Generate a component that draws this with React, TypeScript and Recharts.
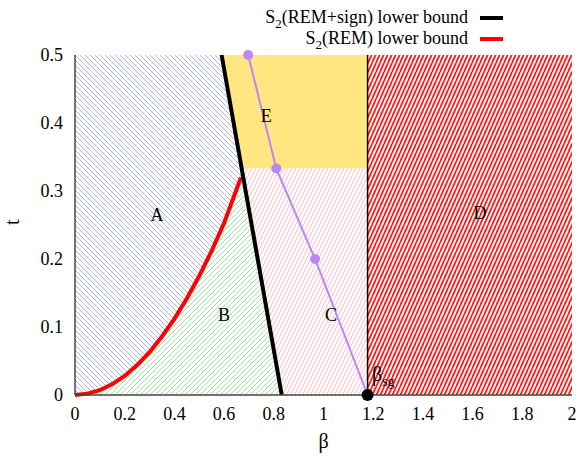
import React from "react"
import {
  ComposedChart,
  Area,
  Line,
  Scatter,
  XAxis,
  YAxis,
  ReferenceLine,
} from "recharts"

// axis ticks
const xTicks = [0, 0.2, 0.4, 0.6, 0.8, 1, 1.2, 1.4, 1.6, 1.8, 2]
const yTicks = [0, 0.1, 0.2, 0.3, 0.4, 0.5]

// critical beta (sqrt(2 ln 2))
const betaSg = 1.1774
const tSplit = 0.333

// S2(REM+sign) lower bound (black)
const signBeta = [0.59, 0.832]
const signT = [0.5, 0]

// S2(REM) lower bound (red)
const remBeta = [0, 0.05, 0.1, 0.15, 0.2, 0.25, 0.3, 0.35, 0.4, 0.45, 0.5, 0.55, 0.6, 0.668]
const remT = [0, 0.002, 0.007, 0.016, 0.028, 0.044, 0.063, 0.086, 0.112, 0.142, 0.175, 0.212, 0.253, 0.32]

// purple line + markers
const purpleBeta = [0.697, 0.81, 0.966, betaSg]
const purpleT = [0.5, 0.333, 0.2, 0]
const purpleDots = 3

// region labels
const labelText = ["A", "B", "C", "D", "E"]
const labelBeta = [0.33, 0.6, 1.03, 1.63, 0.77]
const labelT = [0.265, 0.118, 0.118, 0.267, 0.41]

const signData = signBeta.map((b, i) => ({ b, t: signT[i] }))
const remData = remBeta.map((b, i) => ({ b, t: remT[i] }))
const abData = [{ b: 0, t: 0.5 }, ...signData]
const signAt = (t: number) =>
  signBeta[0] + ((signT[0] - t) / (signT[0] - signT[1])) * (signBeta[1] - signBeta[0])
const bData = [
  ...remData,
  { b: signAt(remT[remT.length - 1]), t: remT[remT.length - 1] },
  { b: signBeta[1], t: signT[1] },
]
const cData = [
  { b: signBeta[0], t: [0, tSplit] },
  { b: betaSg, t: [0, tSplit] },
]
const eData = [
  { b: signBeta[0], t: [tSplit, 0.5] },
  { b: betaSg, t: [tSplit, 0.5] },
]
const dData = [
  { b: betaSg, t: [0, 0.5] },
  { b: 2, t: [0, 0.5] },
]
const purpleData = purpleBeta.map((b, i) => ({ b, t: purpleT[i] }))
const purpleDotData = purpleData.slice(0, purpleDots)
const labelData = labelText.map((text, i) => ({ b: labelBeta[i], t: labelT[i], text }))

const font = "'Liberation Serif', 'Times New Roman', serif"
const purple = "#bb88f0"

const XTick = (p: any) => (
  <text x={p.x} y={p.y} dy={13} textAnchor="middle" fontSize={18} style={{ fontFamily: font }} fill="#000">
    {`${p.payload.value}`}
  </text>
)
const YTick = (p: any) => (
  <text x={p.x} y={p.y} dy={6} textAnchor="end" fontSize={18} style={{ fontFamily: font }} fill="#000">
    {`${p.payload.value}`}
  </text>
)

const subStyle: React.CSSProperties = { fontSize: 13, position: "relative", top: 5 }

export default function App() {
  return (
    <div style={{ position: "absolute", left: 0, top: 0, width: 582, height: 457, background: "#fff", fontFamily: font }}>
      <div style={{ position: "absolute", top: 7, right: 79, fontSize: 18, color: "#000", fontFamily: font }}>
        <div style={{ display: "flex", alignItems: "center", justifyContent: "flex-end", height: 21 }}>
          <span>S<span style={subStyle}>2</span>(REM+sign) lower bound</span>
          <span style={{ display: "inline-block", width: 23, height: 4, background: "#000", marginLeft: 12 }} />
        </div>
        <div style={{ display: "flex", alignItems: "center", justifyContent: "flex-end", height: 21 }}>
          <span>S<span style={subStyle}>2</span>(REM) lower bound</span>
          <span style={{ display: "inline-block", width: 23, height: 4, background: "#ff0000", marginLeft: 12 }} />
        </div>
      </div>
      <ComposedChart width={582} height={457} margin={{ top: 55, right: 10, left: 0, bottom: 0 }} style={{ fontFamily: font }}>
        <defs>
          <pattern id="hatchBlue" patternUnits="userSpaceOnUse" width="5" height="5">
            <rect width="5" height="5" fill="#fff" />
            <path d="M0,0 L5,5 M-1,4 L1,6 M4,-1 L6,1" stroke="#a9b6e6" strokeWidth="1" />
          </pattern>
          <pattern id="hatchGreen" patternUnits="userSpaceOnUse" width="5" height="5">
            <rect width="5" height="5" fill="#fff" />
            <path d="M0,5 L5,0 M-1,1 L1,-1 M4,6 L6,4" stroke="#9de69d" strokeWidth="1" />
          </pattern>
          <pattern id="hatchPink" patternUnits="userSpaceOnUse" width="4" height="8">
            <rect width="4" height="8" fill="#fff" />
            <path d="M0,8 L4,0 M-2,4 L0,0 M4,8 L6,4" stroke="#ffbac6" strokeWidth="1" />
          </pattern>
          <pattern id="hatchRed" patternUnits="userSpaceOnUse" width="4" height="9">
            <rect width="4" height="9" fill="#fff" />
            <path d="M0,9 L4,0 M-2,4.5 L0,0 M4,9 L6,4.5" stroke="#ff1a1a" strokeWidth="1.8" />
          </pattern>
        </defs>
        <XAxis
          dataKey="b"
          type="number"
          domain={[0, 2]}
          ticks={xTicks}
          height={62}
          tickLine={false}
          tickSize={8}
          tickMargin={4}
          axisLine={{ stroke: "#444", strokeWidth: 1.5 }}
          tick={<XTick />}
          label={{ value: "β", position: "insideBottom", offset: 9, fill: "#000", fontSize: 20, style: { fontFamily: font } }}
        />
        <XAxis xAxisId="top" orientation="top" type="number" domain={[0, 2]} height={0} tick={false} tickLine={false} axisLine={{ stroke: "#555", strokeWidth: 1.5 }} />
        <YAxis
          dataKey="t"
          type="number"
          domain={[0, 0.5]}
          ticks={yTicks}
          width={75}
          tickLine={false}
          tickSize={8}
          tickMargin={4}
          axisLine={{ stroke: "#444", strokeWidth: 1.5 }}
          tick={<YTick />}
          label={{ value: "t", angle: -90, position: "insideLeft", offset: 12, fill: "#000", fontSize: 20, style: { fontFamily: font } }}
        />
        <YAxis yAxisId="right" orientation="right" type="number" domain={[0, 0.5]} width={0} tick={false} tickLine={false} axisLine={{ stroke: "#555", strokeWidth: 1.5 }} />

        <Area data={cData} dataKey="t" type="linear" fill="url(#hatchPink)" fillOpacity={1} stroke="none" isAnimationActive={false} />
        <Area data={eData} dataKey="t" type="linear" fill="#ffe680" fillOpacity={1} stroke="none" isAnimationActive={false} />
        <Area data={dData} dataKey="t" type="linear" fill="url(#hatchRed)" fillOpacity={1} stroke="none" isAnimationActive={false} />
        <Area data={abData} dataKey="t" type="linear" fill="url(#hatchBlue)" fillOpacity={1} stroke="none" isAnimationActive={false} />
        <Area data={bData} dataKey="t" type="linear" fill="url(#hatchGreen)" fillOpacity={1} stroke="none" isAnimationActive={false} />

        <ReferenceLine x={betaSg} stroke="#000" strokeWidth={1.5} />

        <Line data={remData} dataKey="t" type="linear" stroke="#ff0000" strokeWidth={4} dot={false} activeDot={false} isAnimationActive={false} />
        <Line data={signData} dataKey="t" type="linear" stroke="#000" strokeWidth={4} dot={false} activeDot={false} isAnimationActive={false} />
        <Line data={purpleData} dataKey="t" type="linear" stroke={purple} strokeWidth={2} dot={false} activeDot={false} isAnimationActive={false} />
        <Scatter data={purpleDotData} dataKey="t" fill={purple} isAnimationActive={false} shape={(p: any) => <circle cx={p.cx} cy={p.cy} r={5} fill={purple} />} />
        <Scatter data={[{ b: betaSg, t: 0 }]} dataKey="t" fill="#000" isAnimationActive={false} shape={(p: any) => <circle cx={p.cx} cy={p.cy} r={6} fill="#000" />} />
        <Scatter
          data={labelData}
          dataKey="t"
          isAnimationActive={false}
          shape={(p: any) => (
            <text x={p.cx} y={p.cy} textAnchor="middle" dominantBaseline="central" fontSize={18} style={{ fontFamily: font }} fill="#000">
              {p.payload.text}
            </text>
          )}
        />
        <Scatter
          data={[{ b: 1.195, t: 0.03 }]}
          dataKey="t"
          isAnimationActive={false}
          shape={(p: any) => (
            <text x={p.cx} y={p.cy + 6} textAnchor="start" fontSize={20} style={{ fontFamily: font }} fill="#000">
              β<tspan fontSize={14} dy={5}>sg</tspan>
            </text>
          )}
        />
      </ComposedChart>
    </div>
  )
}
